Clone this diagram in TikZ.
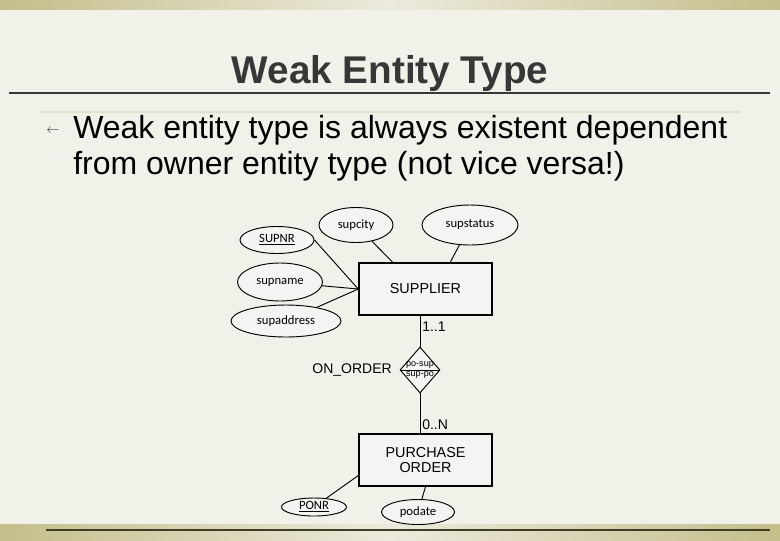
\documentclass[tikz,border=0pt]{standalone}
\usepackage{fontspec}
\setmainfont{Liberation Sans}
\newfontfamily\attrfont{Carlito}
\usetikzlibrary{shapes.geometric,calc}
\definecolor{slidebg}{RGB}{241,240,233}
\definecolor{bandgold}{RGB}{196,190,138}
\definecolor{bandlight}{RGB}{236,234,220}
\definecolor{titlegray}{RGB}{55,55,55}
\definecolor{faintline}{RGB}{226,223,202}
\definecolor{footline}{RGB}{62,62,38}
\definecolor{shapefill}{RGB}{244,244,242}
\begin{document}
\begin{tikzpicture}[x=0.75pt,y=-0.75pt,
        attr/.style={draw,ellipse,fill=shapefill,line width=0.7pt,inner sep=0pt,font=\attrfont\fontsize{9.5}{11}\selectfont},
        entity/.style={draw,rectangle,fill=shapefill,line width=1.1pt,minimum width=99.75pt,minimum height=39pt,align=center,font=\fontsize{10.8}{11.5}\selectfont},
        rel/.style={draw,diamond,fill=shapefill,line width=0.7pt,minimum width=30pt,minimum height=34.5pt,inner sep=0pt},
        link/.style={line width=0.7pt},
        card/.style={anchor=west,inner sep=0pt,font=\fontsize{10.5}{12}\selectfont}]
                \useasboundingbox (0,0) rectangle (780,540);
                \fill[slidebg] (0,0) rectangle (780,540);
                \shade[left color=bandgold,right color=bandgold,middle color=bandlight] (0,0) rectangle (780,9);
                \shade[left color=bandgold,right color=bandgold,middle color=bandlight] (0,524) rectangle (780,540);
                \draw[footline,line width=0.9pt] (46,530) -- (770,530);

                \draw node[anchor=base,font=\bfseries\fontsize{29}{34}\selectfont,text=titlegray] (title) at (390,83) {Weak Entity Type};
                \draw[titlegray,line width=1.5pt] (9,93) -- (770,93);
                \draw[faintline,line width=1.5pt] (40,111.5) -- (740,111.5);
                \draw node[text=titlegray,font=\fontsize{10}{12}\selectfont] (bullet) at (53,131) {$\leftarrow$};
                \draw node[anchor=base west,inner sep=0pt,font=\fontsize{24}{28}\selectfont] (line1) at (73,138) {Weak entity type is always existent dependent};
                \draw node[anchor=base west,inner sep=0pt,font=\fontsize{24}{28}\selectfont] (line2) at (73,174) {from owner entity type (not vice versa!)};

                \draw node[entity] (supplier) at (425.5,289) {SUPPLIER};
                \draw node[entity] (purchase) at (425.5,460) {PURCHASE\\ORDER};
                \draw node[rel] (onorder) at (420,370) {};
                \draw[link] (onorder.west) -- (onorder.east);
                \draw node[inner sep=0pt,font=\fontsize{6.8}{7}\selectfont] (posup) at (420,364.5) {po-sup};
                \draw node[inner sep=0pt,font=\fontsize{6.8}{7}\selectfont] (suppo) at (420,375) {sup-po};
                \draw node[anchor=east,inner sep=0pt,font=\fontsize{10.5}{12}\selectfont] (onlabel) at (392,370) {ON\_ORDER};
                \draw node[card] (one) at (422,327) {1..1};
                \draw node[card] (many) at (422,425) {0..N};

                \draw node[attr,minimum width=55.5pt,minimum height=20.25pt] (supnr) at (277,240) {\underline{SUPNR}};
                \draw node[attr,minimum width=55.5pt,minimum height=26.25pt] (supcity) at (356,225) {supcity};
                \draw node[attr,minimum width=72pt,minimum height=30pt] (supstatus) at (470,225) {supstatus};
                \draw node[attr,minimum width=63.75pt,minimum height=28.5pt] (supname) at (280,282) {supname};
                \draw node[attr,minimum width=82.5pt,minimum height=24pt] (supaddr) at (286,321) {supaddress};
                \draw node[attr,minimum width=48.75pt,minimum height=13.5pt] (ponr) at (314,507) {\underline{PONR}};
                \draw node[attr,minimum width=54.75pt,minimum height=18.75pt] (podate) at (418,512) {podate};

                \draw[link] (supnr.east) to (supplier.west);
                \draw[link] (supname) to (supplier.west);
                \draw[link] (supaddr) to (supplier.west);
                \draw[link] (supcity) to ($(supplier.north west)!0.256!(supplier.north east)$);
                \draw[link] (supstatus) to ($(supplier.north west)!0.684!(supplier.north east)$);
                \draw[link] (onorder.north) to (onorder.north |- supplier.south);
                \draw[link] (onorder.south) to (onorder.south |- purchase.north);
                \draw[link] (ponr) to ($(purchase.south west)!0.21!(purchase.north west)$);
                \draw[link] (podate) to (purchase.south);
            \end{tikzpicture}
\end{document}
